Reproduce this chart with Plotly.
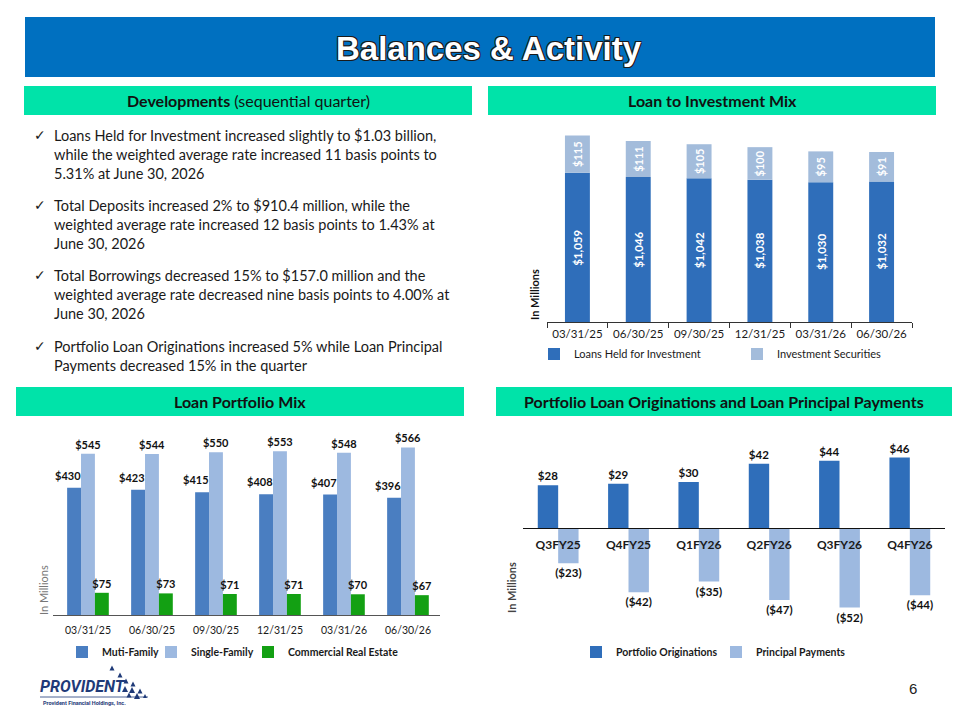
import plotly.graph_objects as go

# ---------------- data ----------------
quarters = ["03/31/25", "06/30/25", "09/30/25", "12/31/25", "03/31/26", "06/30/26"]
loans_held = [1059, 1046, 1042, 1038, 1030, 1032]
investment_securities = [115, 111, 105, 100, 95, 91]

multi_family = [430, 423, 415, 408, 407, 396]
single_family = [545, 544, 550, 553, 548, 566]
commercial_re = [75, 73, 71, 71, 70, 67]

fiscal_quarters = ["Q3FY25", "Q4FY25", "Q1FY26", "Q2FY26", "Q3FY26", "Q4FY26"]
originations = [28, 29, 30, 42, 44, 46]
principal_payments = [-23, -42, -35, -47, -52, -44]

bullets = [
    "Loans Held for Investment increased slightly to $1.03 billion,<br>"
    "while the weighted average rate increased 11 basis points to<br>"
    "5.31% at June 30, 2026",
    "Total Deposits increased 2% to $910.4 million, while the<br>"
    "weighted average rate increased 12 basis points to 1.43% at<br>"
    "June 30, 2026",
    "Total Borrowings decreased 15% to $157.0 million and the<br>"
    "weighted average rate decreased nine basis points to 4.00% at<br>"
    "June 30, 2026",
    "Portfolio Loan Originations increased 5% while Loan Principal<br>"
    "Payments decreased 15% in the quarter",
]

# ---------------- helpers (page body has an 8px margin) ----------------
OFF = 8
W, H = 960 - OFF, 720 - OFF


def X(p):
    return (p - OFF) / W


def Y(p):
    return 1 - (p - OFF) / H


FONT = "Lato"
BLUE_DARK = "#2F6EBA"
BLUE_LIGHT = "#A3BCDB"
MF_BLUE = "#4A7EC1"
SF_BLUE = "#9DB9E0"
CRE_GREEN = "#13A013"
MINT = "#00E3A9"
Y1_MIN, Y1_MAX = 600, 1200

fig = go.Figure()

# ---------------- chart 1: Loan to Investment Mix ----------------
fig.add_trace(go.Bar(
    x=quarters, y=loans_held, name="Loans Held for Investment",
    marker=dict(color=BLUE_DARK, line=dict(width=0)),
    width=0.41, offset=-0.205, textposition="none",
    xaxis="x", yaxis="y", legend="legend", hoverinfo="skip",
))
fig.add_trace(go.Bar(
    x=quarters, y=investment_securities, base=loans_held, name="Investment Securities",
    marker=dict(color=BLUE_LIGHT, line=dict(width=0)),
    width=0.41, offset=-0.205,
    text=[f"${v:,}" for v in investment_securities], textposition="inside",
    insidetextanchor="middle", textangle=-90, constraintext="none",
    textfont=dict(family=FONT, size=11, color="white", weight="bold"),
    xaxis="x", yaxis="y", legend="legend2", hoverinfo="skip",
))

# ---------------- chart 2: Loan Portfolio Mix ----------------
fig.add_trace(go.Bar(
    x=quarters, y=multi_family, name="Muti-Family",
    marker=dict(color=MF_BLUE, line=dict(width=0)),
    width=0.217, offset=-0.326, textposition="none",
    xaxis="x2", yaxis="y2", legend="legend3", hoverinfo="skip",
))
for vals, name, col, off, lg in [
    (single_family, "Single-Family", SF_BLUE, -0.109, "legend4"),
    (commercial_re, "Commercial Real Estate", CRE_GREEN, 0.108, "legend5"),
]:
    fig.add_trace(go.Bar(
        x=quarters, y=vals, name=name,
        marker=dict(color=col, line=dict(width=0)),
        width=0.217, offset=off,
        text=[f"${v}" for v in vals], textposition="outside", constraintext="none",
        textfont=dict(family=FONT, size=11, color="#111", weight="bold"),
        cliponaxis=False,
        xaxis="x2", yaxis="y2", legend=lg, hoverinfo="skip",
    ))

# ---------------- chart 3: Originations and Payments ----------------
fig.add_trace(go.Bar(
    x=fiscal_quarters, y=originations, name="Portfolio Originations",
    marker=dict(color=BLUE_DARK, line=dict(width=0)),
    width=0.29, offset=-0.29,
    text=[f"${v}" for v in originations], textposition="outside", constraintext="none",
    textfont=dict(family=FONT, size=11.5, color="#111", weight="bold"),
    cliponaxis=False,
    xaxis="x3", yaxis="y3", legend="legend6", hoverinfo="skip",
))
fig.add_trace(go.Bar(
    x=fiscal_quarters, y=principal_payments, name="Principal Payments",
    marker=dict(color=SF_BLUE, line=dict(width=0)),
    width=0.29, offset=0.0,
    text=[f"(${-v})" for v in principal_payments], textposition="outside",
    constraintext="none",
    textfont=dict(family=FONT, size=11.5, color="#111", weight="bold"),
    cliponaxis=False,
    xaxis="x3", yaxis="y3", legend="legend7", hoverinfo="skip",
))

# ---------------- shapes ----------------
shapes = [
    dict(type="rect", xref="paper", yref="paper", x0=X(25), x1=X(935), y0=Y(77), y1=Y(17),
         fillcolor="#0070C0", line=dict(width=0), layer="below"),
]
for (x0, y0, x1, y1) in [(24, 86, 472, 115), (488, 86, 936, 115),
                         (16, 387, 464, 416), (496, 387, 952, 416)]:
    shapes.append(dict(type="rect", xref="paper", yref="paper", x0=X(x0), x1=X(x1),
                       y0=Y(y1), y1=Y(y0), fillcolor=MINT, line=dict(width=0), layer="below"))

# logo triangles
NAVY = "#1F3A78"
tris = [(112, 668, 5), (120, 675, 5), (126, 681, 5), (133, 684, 5), (125, 689, 6),
        (132, 690, 6), (140, 691, 5), (129, 695, 5), (137, 696, 6), (145, 696, 4)]
for (cx, cy, s) in tris:
    path = (f"M {X(cx - s / 2)} {Y(cy + s / 2)} L {X(cx + s / 2)} {Y(cy + s / 2)} "
            f"L {X(cx)} {Y(cy - s / 2)} Z")
    shapes.append(dict(type="path", xref="paper", yref="paper", path=path,
                       fillcolor=NAVY, line=dict(width=0)))
shapes.append(dict(type="line", xref="paper", yref="paper", x0=X(40), x1=X(148),
                   y0=Y(697), y1=Y(697), line=dict(color=NAVY, width=0.8)))

# ---------------- annotations ----------------
ann = []
ann.append(dict(text="Balances & Activity", x=X(489), y=Y(48), xref="paper", yref="paper",
                showarrow=False, xanchor="center", yanchor="middle",
                font=dict(family="Liberation Sans", size=33, color="white", weight="bold",
                          shadow="-1px -1px 0 #1a1a1a, 1px -1px 0 #1a1a1a, "
                                 "-1px 1px 0 #1a1a1a, 1px 1px 0 #1a1a1a")))

hdr_font = dict(family=FONT, size=16, color="#111")
for txt, cx, cy in [("<b>Developments</b> (sequential quarter)", 248, 100.5),
                    ("<b>Loan to Investment Mix</b>", 712, 100.5),
                    ("<b>Loan Portfolio Mix</b>", 240, 401.5),
                    ("<b>Portfolio Loan Originations and Loan Principal Payments</b>", 724, 401.5)]:
    ann.append(dict(text=txt, x=X(cx), y=Y(cy), xref="paper", yref="paper", showarrow=False,
                    xanchor="center", yanchor="middle", font=hdr_font))

bullet_font = dict(family=FONT, size=14.5, color="#1a1a1a")
mids = [154, 224, 295, 356.5]
firsts = [137, 207, 277, 348]
for txt, m, f in zip(bullets, mids, firsts):
    ann.append(dict(text=txt, x=X(52), y=Y(m), xref="paper", yref="paper", showarrow=False,
                    xanchor="left", yanchor="middle", align="left", font=bullet_font))
    ann.append(dict(text="✓", x=X(40), y=Y(f - 2), xref="paper", yref="paper", showarrow=False,
                    xanchor="center", yanchor="middle",
                    font=dict(family="DejaVu Sans", size=14, color="#1a1a1a")))

# value labels of the loans bars, centred on the visible part of each bar
for q, v in zip(quarters, loans_held):
    ann.append(dict(text=f"${v:,}", x=q, y=(Y1_MIN + v) / 2, xref="x", yref="y",
                    showarrow=False, textangle=-90, xanchor="center", yanchor="middle",
                    font=dict(family=FONT, size=11.5, color="white", weight="bold")))

# value labels of the multi-family bars (set slightly to the left, as in the original)
for q, v in zip(quarters, multi_family):
    ann.append(dict(text=f"${v}", x=q, y=v, xref="x2", yref="y2", showarrow=False,
                    xanchor="center", yanchor="bottom", xshift=-20, yshift=4,
                    font=dict(family=FONT, size=11, color="#111", weight="bold")))

# In Millions labels
ann.append(dict(text="<b>In Millions</b>", x=X(535), y=Y(295), xref="paper", yref="paper",
                showarrow=False, textangle=-90, xanchor="center", yanchor="middle",
                font=dict(family=FONT, size=11, color="#111")))
ann.append(dict(text="In Millions", x=X(43), y=Y(590), xref="paper", yref="paper",
                showarrow=False, textangle=-90, xanchor="center", yanchor="middle",
                font=dict(family=FONT, size=11, color="#777")))
ann.append(dict(text="<b>In Millions</b>", x=X(511), y=Y(588), xref="paper", yref="paper",
                showarrow=False, textangle=-90, xanchor="center", yanchor="middle",
                font=dict(family=FONT, size=11, color="#444")))

# logo text + page number
ann.append(dict(text="<b>PROVIDENT</b>", x=X(38), y=Y(686), xref="paper", yref="paper",
                showarrow=False, xanchor="left", yanchor="middle",
                font=dict(family="Roboto", size=16, color=NAVY, style="italic")))
ann.append(dict(text="<b>Provident Financial Holdings, Inc.</b>", x=X(84), y=Y(703),
                xref="paper", yref="paper", showarrow=False, xanchor="center",
                yanchor="middle", font=dict(family="Roboto", size=5.5, color=NAVY)))
ann.append(dict(text="6", x=X(913), y=Y(688), xref="paper", yref="paper", showarrow=False,
                xanchor="center", yanchor="middle",
                font=dict(family="Liberation Sans", size=15, color="#222")))

leg_font = dict(family=FONT, size=11, color="#1a1a1a")
leg_font_b = dict(family=FONT, size=10.5, color="#1a1a1a", weight="bold")


def legend_at(text_x, text_y, font):
    # plotly puts the legend text 39px right of the legend's left edge
    return dict(orientation="h", x=X(text_x - 39), y=Y(text_y), xanchor="left",
                yanchor="middle", font=font, itemwidth=30, bgcolor="rgba(0,0,0,0)",
                itemclick=False, itemdoubleclick=False)


fig.update_layout(
    width=W, height=H, margin=dict(l=0, r=0, t=0, b=0),
    paper_bgcolor="white", plot_bgcolor="rgba(0,0,0,0)",
    barmode="overlay", showlegend=True,
    shapes=shapes, annotations=ann,
    xaxis=dict(domain=[X(547), X(912)], anchor="y", showline=True, linecolor="#333",
               linewidth=1, ticks="outside", tickson="boundaries", ticklen=5,
               tickcolor="#333", tickangle=0, ticklabelstandoff=1,
               tickfont=dict(family=FONT, size=11.5, color="#1a1a1a"), showgrid=False),
    yaxis=dict(domain=[Y(322), Y(127)], range=[Y1_MIN, Y1_MAX], visible=False, anchor="x"),
    xaxis2=dict(domain=[X(53), X(440)], anchor="y2", showline=True, linecolor="#555",
                linewidth=1, ticks="", tickangle=0, ticklabelstandoff=5,
                tickfont=dict(family=FONT, size=10.5, color="#1a1a1a"), showgrid=False),
    yaxis2=dict(domain=[Y(615), Y(431.5)], range=[0, 620], visible=False, anchor="x2"),
    xaxis3=dict(domain=[X(523), X(945)], anchor="free", position=Y(528), showline=True,
                linecolor="#111", linewidth=1, ticks="", tickangle=0, ticklabelstandoff=6,
                tickfont=dict(family=FONT, size=12, color="#1a1a1a", weight="bold"),
                showgrid=False),
    yaxis3=dict(domain=[Y(619.8), Y(436.2)], range=[-60, 60], visible=False, anchor="x3"),
    legend=legend_at(573, 354, leg_font),
    legend2=legend_at(776, 354, leg_font),
    legend3=legend_at(101, 652, leg_font_b),
    legend4=legend_at(190, 652, leg_font_b),
    legend5=legend_at(287, 652, leg_font_b),
    legend6=legend_at(615, 652, leg_font_b),
    legend7=legend_at(755, 652, leg_font_b),
)

fig.write_html("out.html")
